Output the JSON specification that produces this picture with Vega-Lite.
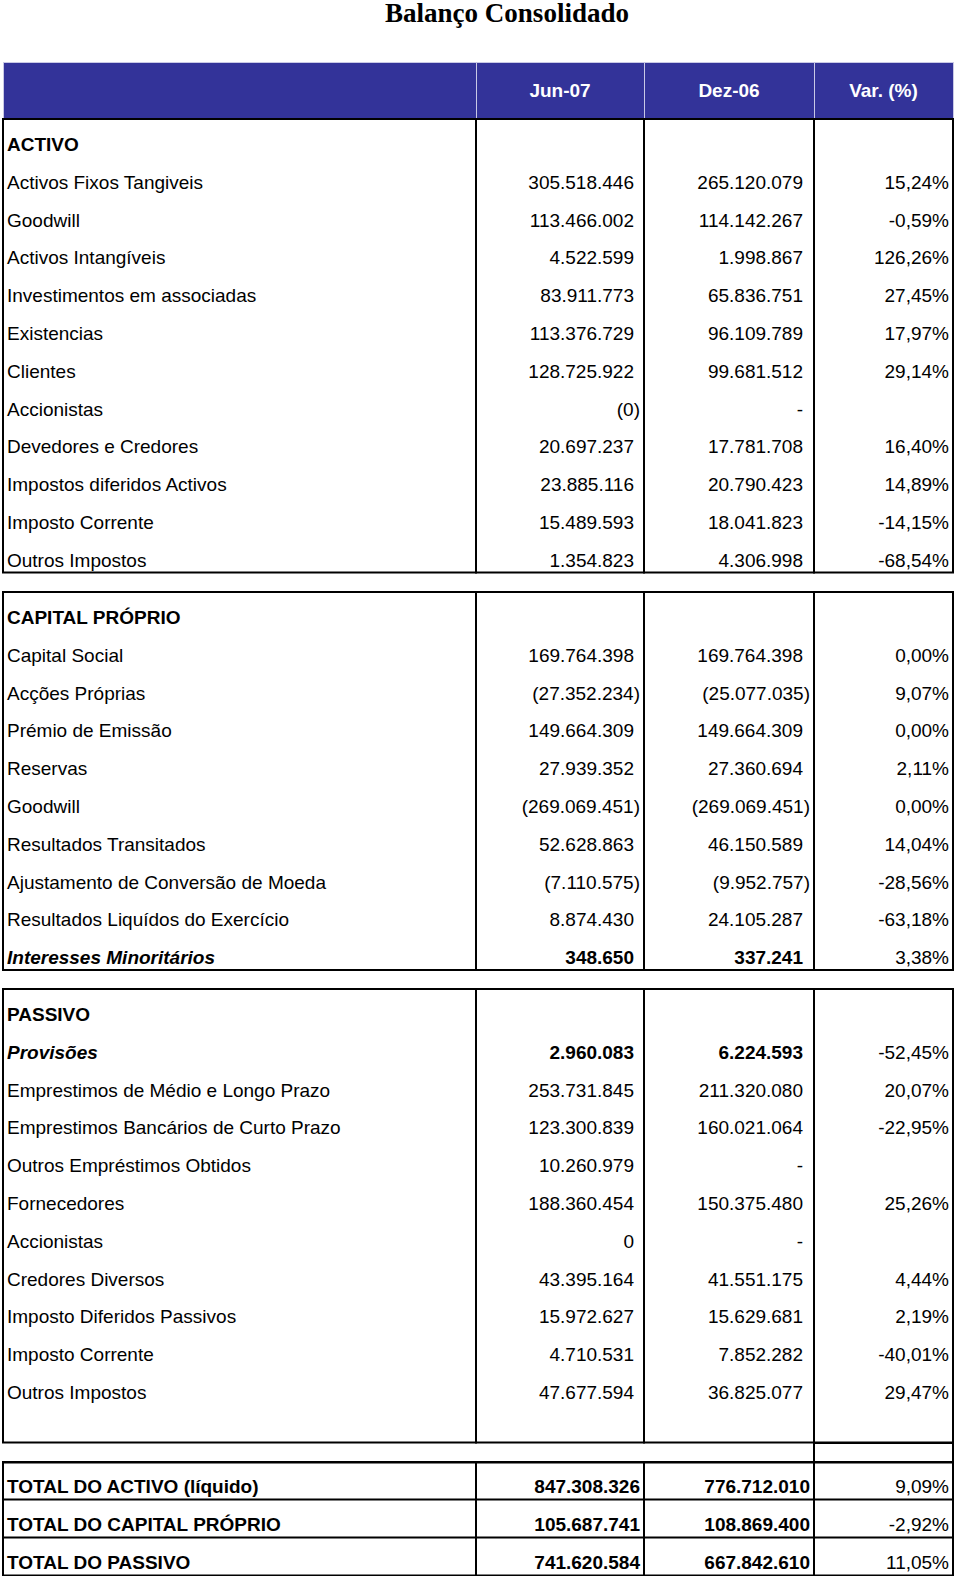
{
  "$schema": "https://vega.github.io/schema/vega-lite/v6.json",
  "padding": {"left": 2, "top": 0, "right": 0, "bottom": 0},
  "background": "#ffffff",
  "spacing": 19,
  "config": {"font": "Liberation Sans", "view": {"stroke": null}},
  "datasets": {
    "rows": [
      {"sec": "A", "n": 1, "kind": "section", "label": "ACTIVO", "jun": "", "dez": "", "var": ""},
      {"sec": "A", "n": 2, "kind": "item", "label": "Activos Fixos Tangiveis", "jun": "305.518.446", "dez": "265.120.079", "var": "15,24%"},
      {"sec": "A", "n": 3, "kind": "item", "label": "Goodwill", "jun": "113.466.002", "dez": "114.142.267", "var": "-0,59%"},
      {"sec": "A", "n": 4, "kind": "item", "label": "Activos Intangíveis", "jun": "4.522.599", "dez": "1.998.867", "var": "126,26%"},
      {"sec": "A", "n": 5, "kind": "item", "label": "Investimentos em associadas", "jun": "83.911.773", "dez": "65.836.751", "var": "27,45%"},
      {"sec": "A", "n": 6, "kind": "item", "label": "Existencias", "jun": "113.376.729", "dez": "96.109.789", "var": "17,97%"},
      {"sec": "A", "n": 7, "kind": "item", "label": "Clientes", "jun": "128.725.922", "dez": "99.681.512", "var": "29,14%"},
      {"sec": "A", "n": 8, "kind": "item", "label": "Accionistas", "jun": "(0)", "dez": "-", "var": ""},
      {"sec": "A", "n": 9, "kind": "item", "label": "Devedores e Credores", "jun": "20.697.237", "dez": "17.781.708", "var": "16,40%"},
      {"sec": "A", "n": 10, "kind": "item", "label": "Impostos diferidos Activos", "jun": "23.885.116", "dez": "20.790.423", "var": "14,89%"},
      {"sec": "A", "n": 11, "kind": "item", "label": "Imposto Corrente", "jun": "15.489.593", "dez": "18.041.823", "var": "-14,15%"},
      {"sec": "A", "n": 12, "kind": "item", "label": "Outros Impostos", "jun": "1.354.823", "dez": "4.306.998", "var": "-68,54%"},
      {"sec": "C", "n": 1, "kind": "section", "label": "CAPITAL PRÓPRIO", "jun": "", "dez": "", "var": ""},
      {"sec": "C", "n": 2, "kind": "item", "label": "Capital Social", "jun": "169.764.398", "dez": "169.764.398", "var": "0,00%"},
      {"sec": "C", "n": 3, "kind": "item", "label": "Acções Próprias", "jun": "(27.352.234)", "dez": "(25.077.035)", "var": "9,07%"},
      {"sec": "C", "n": 4, "kind": "item", "label": "Prémio de Emissão", "jun": "149.664.309", "dez": "149.664.309", "var": "0,00%"},
      {"sec": "C", "n": 5, "kind": "item", "label": "Reservas", "jun": "27.939.352", "dez": "27.360.694", "var": "2,11%"},
      {"sec": "C", "n": 6, "kind": "item", "label": "Goodwill", "jun": "(269.069.451)", "dez": "(269.069.451)", "var": "0,00%"},
      {"sec": "C", "n": 7, "kind": "item", "label": "Resultados Transitados", "jun": "52.628.863", "dez": "46.150.589", "var": "14,04%"},
      {"sec": "C", "n": 8, "kind": "item", "label": "Ajustamento de Conversão de Moeda", "jun": "(7.110.575)", "dez": "(9.952.757)", "var": "-28,56%"},
      {"sec": "C", "n": 9, "kind": "item", "label": "Resultados Liquídos do Exercício", "jun": "8.874.430", "dez": "24.105.287", "var": "-63,18%"},
      {"sec": "C", "n": 10, "kind": "minor", "label": "Interesses Minoritários", "jun": "348.650", "dez": "337.241", "var": "3,38%"},
      {"sec": "P", "n": 1, "kind": "section", "label": "PASSIVO", "jun": "", "dez": "", "var": ""},
      {"sec": "P", "n": 2, "kind": "minor", "label": "Provisões", "jun": "2.960.083", "dez": "6.224.593", "var": "-52,45%"},
      {"sec": "P", "n": 3, "kind": "item", "label": "Emprestimos de Médio e Longo Prazo", "jun": "253.731.845", "dez": "211.320.080", "var": "20,07%"},
      {"sec": "P", "n": 4, "kind": "item", "label": "Emprestimos Bancários de Curto Prazo", "jun": "123.300.839", "dez": "160.021.064", "var": "-22,95%"},
      {"sec": "P", "n": 5, "kind": "item", "label": "Outros Empréstimos Obtidos", "jun": "10.260.979", "dez": "-", "var": ""},
      {"sec": "P", "n": 6, "kind": "item", "label": "Fornecedores", "jun": "188.360.454", "dez": "150.375.480", "var": "25,26%"},
      {"sec": "P", "n": 7, "kind": "item", "label": "Accionistas", "jun": "0", "dez": "-", "var": ""},
      {"sec": "P", "n": 8, "kind": "item", "label": "Credores Diversos", "jun": "43.395.164", "dez": "41.551.175", "var": "4,44%"},
      {"sec": "P", "n": 9, "kind": "item", "label": "Imposto Diferidos Passivos", "jun": "15.972.627", "dez": "15.629.681", "var": "2,19%"},
      {"sec": "P", "n": 10, "kind": "item", "label": "Imposto Corrente", "jun": "4.710.531", "dez": "7.852.282", "var": "-40,01%"},
      {"sec": "P", "n": 11, "kind": "item", "label": "Outros Impostos", "jun": "47.677.594", "dez": "36.825.077", "var": "29,47%"},
      {"sec": "P", "n": 12, "kind": "item", "label": "", "jun": "", "dez": "", "var": ""},
      {"sec": "T", "n": 1, "kind": "total", "label": "TOTAL DO ACTIVO (líquido)", "jun": "847.308.326", "dez": "776.712.010", "var": "9,09%"},
      {"sec": "T", "n": 2, "kind": "total", "label": "TOTAL DO CAPITAL PRÓPRIO", "jun": "105.687.741", "dez": "108.869.400", "var": "-2,92%"},
      {"sec": "T", "n": 3, "kind": "total", "label": "TOTAL DO PASSIVO", "jun": "741.620.584", "dez": "667.842.610", "var": "11,05%"}
    ],
    "title": [{"t": "Balanço Consolidado"}],
    "heads": [{"col": "label", "h": ""}, {"col": "jun", "h": "Jun-07"}, {"col": "dez", "h": "Dez-06"}, {"col": "var", "h": "Var. (%)"}]
  },
  "vconcat": [
    {
      "width": 950, "height": 42,
      "data": {"name": "title"},
      "mark": {"type": "text", "font": "Liberation Serif", "fontSize": 27, "fontWeight": "bold", "color": "#000000", "baseline": "middle", "dx": 29, "dy": -7},
      "encoding": {"text": {"field": "t", "type": "nominal"}}
    },
    {
      "columns": 4,
      "spacing": 0,
      "bounds": "flush",
      "resolve": {"scale": {"y": "independent", "x": "independent"}},
      "concat": [
        {"width": 473, "height": 57, "view": {"fill": "#333399", "stroke": "#c9c9e6", "strokeWidth": 1}, "data": {"name": "heads"}, "transform": [{"filter": "datum.col == 'label'"}], "mark": {"type": "text", "color": "#ffffff", "fontWeight": "bold", "fontSize": 19, "baseline": "middle"}, "encoding": {"text": {"field": "h", "type": "nominal"}}},
        {"width": 168, "height": 57, "view": {"fill": "#333399", "stroke": "#c9c9e6", "strokeWidth": 1}, "data": {"name": "heads"}, "transform": [{"filter": "datum.col == 'jun'"}], "mark": {"type": "text", "color": "#ffffff", "fontWeight": "bold", "fontSize": 19, "baseline": "middle"}, "encoding": {"text": {"field": "h", "type": "nominal"}}},
        {"width": 170, "height": 57, "view": {"fill": "#333399", "stroke": "#c9c9e6", "strokeWidth": 1}, "data": {"name": "heads"}, "transform": [{"filter": "datum.col == 'dez'"}], "mark": {"type": "text", "color": "#ffffff", "fontWeight": "bold", "fontSize": 19, "baseline": "middle"}, "encoding": {"text": {"field": "h", "type": "nominal"}}},
        {"width": 139, "height": 57, "view": {"fill": "#333399", "stroke": "#c9c9e6", "strokeWidth": 1}, "data": {"name": "heads"}, "transform": [{"filter": "datum.col == 'var'"}], "mark": {"type": "text", "color": "#ffffff", "fontWeight": "bold", "fontSize": 19, "baseline": "middle"}, "encoding": {"text": {"field": "h", "type": "nominal"}}},

        {"width": 473, "height": 453.6, "view": {"stroke": "#000000", "strokeWidth": 2}, "data": {"name": "rows"}, "transform": [{"filter": "datum.sec == 'A'"}], "mark": {"type": "text", "align": "left", "baseline": "middle", "dx": -232.5, "dy": 7, "fontSize": 19, "color": "#000000", "fontWeight": {"expr": "datum.kind == 'item' ? 'normal' : 'bold'"}, "fontStyle": {"expr": "datum.kind == 'minor' ? 'italic' : 'normal'"}}, "encoding": {"y": {"field": "n", "type": "ordinal", "axis": null}, "text": {"field": "label", "type": "nominal"}}},
        {"width": 168, "height": 453.6, "view": {"stroke": "#000000", "strokeWidth": 2}, "data": {"name": "rows"}, "transform": [{"filter": "datum.sec == 'A'"}], "mark": {"type": "text", "align": "right", "baseline": "middle", "dx": {"expr": "(datum.kind == 'total' || substring(datum.jun, 0, 1) == '(') ? 80 : 74"}, "dy": 7, "fontSize": 19, "color": "#000000", "fontWeight": {"expr": "(datum.kind == 'minor' || datum.kind == 'total') ? 'bold' : 'normal'"}}, "encoding": {"y": {"field": "n", "type": "ordinal", "axis": null}, "text": {"field": "jun", "type": "nominal"}}},
        {"width": 170, "height": 453.6, "view": {"stroke": "#000000", "strokeWidth": 2}, "data": {"name": "rows"}, "transform": [{"filter": "datum.sec == 'A'"}], "mark": {"type": "text", "align": "right", "baseline": "middle", "dx": {"expr": "(datum.kind == 'total' || substring(datum.dez, 0, 1) == '(') ? 81 : 74"}, "dy": 7, "fontSize": 19, "color": "#000000", "fontWeight": {"expr": "(datum.kind == 'minor' || datum.kind == 'total') ? 'bold' : 'normal'"}}, "encoding": {"y": {"field": "n", "type": "ordinal", "axis": null}, "text": {"field": "dez", "type": "nominal"}}},
        {"width": 139, "height": 453.6, "view": {"stroke": "#000000", "strokeWidth": 2}, "data": {"name": "rows"}, "transform": [{"filter": "datum.sec == 'A'"}], "mark": {"type": "text", "align": "right", "baseline": "middle", "dx": 65.5, "dy": 7, "fontSize": 19, "color": "#000000"}, "encoding": {"y": {"field": "n", "type": "ordinal", "axis": null}, "text": {"field": "var", "type": "nominal"}}},

        {"width": 473, "height": 19, "data": {"name": "title"}, "transform": [{"filter": "false"}], "mark": "text", "encoding": {"text": {"field": "t", "type": "nominal"}}},
        {"width": 168, "height": 19, "data": {"name": "title"}, "transform": [{"filter": "false"}], "mark": "text", "encoding": {"text": {"field": "t", "type": "nominal"}}},
        {"width": 170, "height": 19, "data": {"name": "title"}, "transform": [{"filter": "false"}], "mark": "text", "encoding": {"text": {"field": "t", "type": "nominal"}}},
        {"width": 139, "height": 19, "data": {"name": "title"}, "transform": [{"filter": "false"}], "mark": "text", "encoding": {"text": {"field": "t", "type": "nominal"}}},

        {"width": 473, "height": 378, "view": {"stroke": "#000000", "strokeWidth": 2}, "data": {"name": "rows"}, "transform": [{"filter": "datum.sec == 'C'"}], "mark": {"type": "text", "align": "left", "baseline": "middle", "dx": -232.5, "dy": 7, "fontSize": 19, "color": "#000000", "fontWeight": {"expr": "datum.kind == 'item' ? 'normal' : 'bold'"}, "fontStyle": {"expr": "datum.kind == 'minor' ? 'italic' : 'normal'"}}, "encoding": {"y": {"field": "n", "type": "ordinal", "axis": null}, "text": {"field": "label", "type": "nominal"}}},
        {"width": 168, "height": 378, "view": {"stroke": "#000000", "strokeWidth": 2}, "data": {"name": "rows"}, "transform": [{"filter": "datum.sec == 'C'"}], "mark": {"type": "text", "align": "right", "baseline": "middle", "dx": {"expr": "(datum.kind == 'total' || substring(datum.jun, 0, 1) == '(') ? 80 : 74"}, "dy": 7, "fontSize": 19, "color": "#000000", "fontWeight": {"expr": "(datum.kind == 'minor' || datum.kind == 'total') ? 'bold' : 'normal'"}}, "encoding": {"y": {"field": "n", "type": "ordinal", "axis": null}, "text": {"field": "jun", "type": "nominal"}}},
        {"width": 170, "height": 378, "view": {"stroke": "#000000", "strokeWidth": 2}, "data": {"name": "rows"}, "transform": [{"filter": "datum.sec == 'C'"}], "mark": {"type": "text", "align": "right", "baseline": "middle", "dx": {"expr": "(datum.kind == 'total' || substring(datum.dez, 0, 1) == '(') ? 81 : 74"}, "dy": 7, "fontSize": 19, "color": "#000000", "fontWeight": {"expr": "(datum.kind == 'minor' || datum.kind == 'total') ? 'bold' : 'normal'"}}, "encoding": {"y": {"field": "n", "type": "ordinal", "axis": null}, "text": {"field": "dez", "type": "nominal"}}},
        {"width": 139, "height": 378, "view": {"stroke": "#000000", "strokeWidth": 2}, "data": {"name": "rows"}, "transform": [{"filter": "datum.sec == 'C'"}], "mark": {"type": "text", "align": "right", "baseline": "middle", "dx": 65.5, "dy": 7, "fontSize": 19, "color": "#000000"}, "encoding": {"y": {"field": "n", "type": "ordinal", "axis": null}, "text": {"field": "var", "type": "nominal"}}},

        {"width": 473, "height": 19, "data": {"name": "title"}, "transform": [{"filter": "false"}], "mark": "text", "encoding": {"text": {"field": "t", "type": "nominal"}}},
        {"width": 168, "height": 19, "data": {"name": "title"}, "transform": [{"filter": "false"}], "mark": "text", "encoding": {"text": {"field": "t", "type": "nominal"}}},
        {"width": 170, "height": 19, "data": {"name": "title"}, "transform": [{"filter": "false"}], "mark": "text", "encoding": {"text": {"field": "t", "type": "nominal"}}},
        {"width": 139, "height": 19, "data": {"name": "title"}, "transform": [{"filter": "false"}], "mark": "text", "encoding": {"text": {"field": "t", "type": "nominal"}}},

        {"width": 473, "height": 453.6, "view": {"stroke": "#000000", "strokeWidth": 2}, "data": {"name": "rows"}, "transform": [{"filter": "datum.sec == 'P'"}], "mark": {"type": "text", "align": "left", "baseline": "middle", "dx": -232.5, "dy": 7, "fontSize": 19, "color": "#000000", "fontWeight": {"expr": "datum.kind == 'item' ? 'normal' : 'bold'"}, "fontStyle": {"expr": "datum.kind == 'minor' ? 'italic' : 'normal'"}}, "encoding": {"y": {"field": "n", "type": "ordinal", "axis": null}, "text": {"field": "label", "type": "nominal"}}},
        {"width": 168, "height": 453.6, "view": {"stroke": "#000000", "strokeWidth": 2}, "data": {"name": "rows"}, "transform": [{"filter": "datum.sec == 'P'"}], "mark": {"type": "text", "align": "right", "baseline": "middle", "dx": {"expr": "(datum.kind == 'total' || substring(datum.jun, 0, 1) == '(') ? 80 : 74"}, "dy": 7, "fontSize": 19, "color": "#000000", "fontWeight": {"expr": "(datum.kind == 'minor' || datum.kind == 'total') ? 'bold' : 'normal'"}}, "encoding": {"y": {"field": "n", "type": "ordinal", "axis": null}, "text": {"field": "jun", "type": "nominal"}}},
        {"width": 170, "height": 453.6, "view": {"stroke": "#000000", "strokeWidth": 2}, "data": {"name": "rows"}, "transform": [{"filter": "datum.sec == 'P'"}], "mark": {"type": "text", "align": "right", "baseline": "middle", "dx": {"expr": "(datum.kind == 'total' || substring(datum.dez, 0, 1) == '(') ? 81 : 74"}, "dy": 7, "fontSize": 19, "color": "#000000", "fontWeight": {"expr": "(datum.kind == 'minor' || datum.kind == 'total') ? 'bold' : 'normal'"}}, "encoding": {"y": {"field": "n", "type": "ordinal", "axis": null}, "text": {"field": "dez", "type": "nominal"}}},
        {"width": 139, "height": 453.6, "view": {"stroke": "#000000", "strokeWidth": 2}, "data": {"name": "rows"}, "transform": [{"filter": "datum.sec == 'P'"}], "mark": {"type": "text", "align": "right", "baseline": "middle", "dx": 65.5, "dy": 7, "fontSize": 19, "color": "#000000"}, "encoding": {"y": {"field": "n", "type": "ordinal", "axis": null}, "text": {"field": "var", "type": "nominal"}}},

        {"width": 473, "height": 19, "data": {"name": "title"}, "transform": [{"filter": "false"}], "mark": "text", "encoding": {"text": {"field": "t", "type": "nominal"}}},
        {"width": 168, "height": 19, "data": {"name": "title"}, "transform": [{"filter": "false"}], "mark": "text", "encoding": {"text": {"field": "t", "type": "nominal"}}},
        {"width": 170, "height": 19, "data": {"name": "title"}, "transform": [{"filter": "false"}], "mark": "text", "encoding": {"text": {"field": "t", "type": "nominal"}}},
        {"width": 139, "height": 19, "view": {"stroke": "#000000", "strokeWidth": 2}, "data": {"name": "title"}, "transform": [{"filter": "false"}], "mark": "text", "encoding": {"text": {"field": "t", "type": "nominal"}}},

        {"width": 473, "height": 113.4, "view": {"stroke": "#000000", "strokeWidth": 2}, "data": {"name": "rows"}, "transform": [{"filter": "datum.sec == 'T'"}], "mark": {"type": "text", "align": "left", "baseline": "middle", "dx": -232.5, "dy": 6, "fontSize": 19, "color": "#000000", "fontWeight": {"expr": "datum.kind == 'item' ? 'normal' : 'bold'"}, "fontStyle": {"expr": "datum.kind == 'minor' ? 'italic' : 'normal'"}}, "encoding": {"y": {"field": "n", "type": "ordinal", "scale": {"type": "band", "paddingInner": 0, "paddingOuter": 0}, "axis": {"grid": true, "bandPosition": 0, "gridColor": "#000000", "gridWidth": 2, "gridOpacity": 1, "labels": false, "ticks": false, "domain": false, "title": null, "minExtent": 0, "maxExtent": 0}}, "text": {"field": "label", "type": "nominal"}}},
        {"width": 168, "height": 113.4, "view": {"stroke": "#000000", "strokeWidth": 2}, "data": {"name": "rows"}, "transform": [{"filter": "datum.sec == 'T'"}], "mark": {"type": "text", "align": "right", "baseline": "middle", "dx": {"expr": "(datum.kind == 'total' || substring(datum.jun, 0, 1) == '(') ? 80 : 74"}, "dy": 6, "fontSize": 19, "color": "#000000", "fontWeight": {"expr": "(datum.kind == 'minor' || datum.kind == 'total') ? 'bold' : 'normal'"}}, "encoding": {"y": {"field": "n", "type": "ordinal", "scale": {"type": "band", "paddingInner": 0, "paddingOuter": 0}, "axis": {"grid": true, "bandPosition": 0, "gridColor": "#000000", "gridWidth": 2, "gridOpacity": 1, "labels": false, "ticks": false, "domain": false, "title": null, "minExtent": 0, "maxExtent": 0}}, "text": {"field": "jun", "type": "nominal"}}},
        {"width": 170, "height": 113.4, "view": {"stroke": "#000000", "strokeWidth": 2}, "data": {"name": "rows"}, "transform": [{"filter": "datum.sec == 'T'"}], "mark": {"type": "text", "align": "right", "baseline": "middle", "dx": {"expr": "(datum.kind == 'total' || substring(datum.dez, 0, 1) == '(') ? 81 : 74"}, "dy": 6, "fontSize": 19, "color": "#000000", "fontWeight": {"expr": "(datum.kind == 'minor' || datum.kind == 'total') ? 'bold' : 'normal'"}}, "encoding": {"y": {"field": "n", "type": "ordinal", "scale": {"type": "band", "paddingInner": 0, "paddingOuter": 0}, "axis": {"grid": true, "bandPosition": 0, "gridColor": "#000000", "gridWidth": 2, "gridOpacity": 1, "labels": false, "ticks": false, "domain": false, "title": null, "minExtent": 0, "maxExtent": 0}}, "text": {"field": "dez", "type": "nominal"}}},
        {"width": 139, "height": 113.4, "view": {"stroke": "#000000", "strokeWidth": 2}, "data": {"name": "rows"}, "transform": [{"filter": "datum.sec == 'T'"}], "mark": {"type": "text", "align": "right", "baseline": "middle", "dx": 65.5, "dy": 6, "fontSize": 19, "color": "#000000"}, "encoding": {"y": {"field": "n", "type": "ordinal", "scale": {"type": "band", "paddingInner": 0, "paddingOuter": 0}, "axis": {"grid": true, "bandPosition": 0, "gridColor": "#000000", "gridWidth": 2, "gridOpacity": 1, "labels": false, "ticks": false, "domain": false, "title": null, "minExtent": 0, "maxExtent": 0}}, "text": {"field": "var", "type": "nominal"}}}
      ]
    }
  ]
}
